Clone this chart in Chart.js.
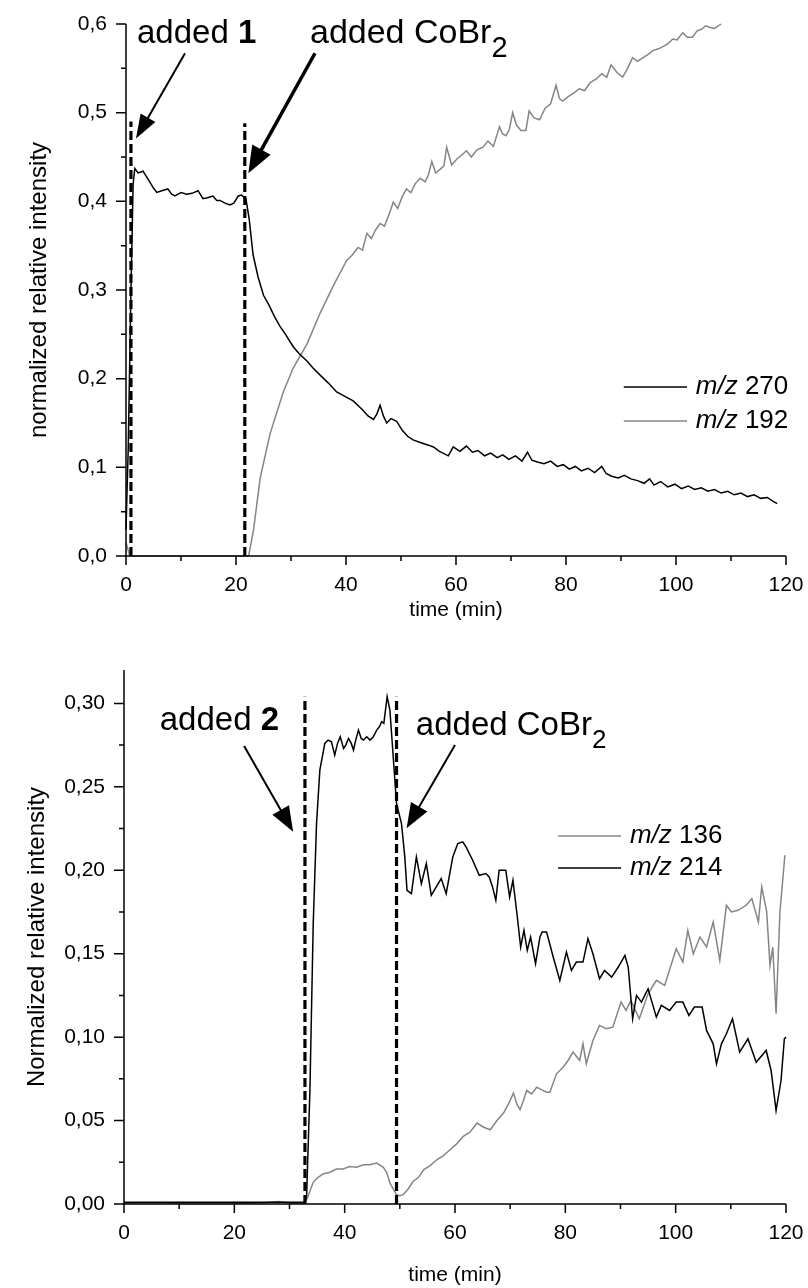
<!DOCTYPE html>
<html><head><meta charset="utf-8">
<script src="https://cdn.jsdelivr.net/npm/chart.js@4.4.1/dist/chart.umd.min.js"></script>
<style>
html,body{margin:0;padding:0;background:#fff;width:808px;height:1288px;overflow:hidden}
.box{position:absolute;left:0;width:808px}
#b1{top:0;height:640px}
#b2{top:640px;height:648px}
</style></head><body>
<div class="box" id="b1"><canvas id="c1"></canvas></div>
<div class="box" id="b2"><canvas id="c2"></canvas></div>
<script>
// ---------- DATA: top chart ----------
const topLabels = ['m/z 270', 'm/z 192'];
const topTime270 = [0,0.4,0.9,1.3,1.6,2.2,3.1,4.0,5.0,5.6,6.5,7.6,8.3,8.9,10.0,11.0,12.0,13.1,14.0,14.8,15.8,16.5,17.1,18.0,18.9,19.6,20.4,21.0,21.8,22.4,23.1,24.0,25.0,26.0,27.0,28.0,29.0,30.4,31.5,32.9,34.0,35.3,36.8,38.3,39.8,41.3,43.0,44.0,45.0,45.6,46.2,46.8,47.4,48.2,49.2,50.2,51.2,52.2,53.5,55.0,55.9,57.0,58.6,59.5,60.7,61.9,63.0,64.0,65.2,66.3,67.5,68.5,69.6,70.8,72.0,73.0,73.8,74.8,76.0,77.2,78.4,79.5,80.6,81.7,82.8,84.0,85.2,86.5,87.3,88.3,89.5,90.6,91.8,93.0,94.2,95.2,96.0,97.2,98.5,99.8,101.0,102.2,103.4,104.6,105.8,107.0,108.2,109.4,110.6,111.8,113.0,114.2,115.4,116.6,117.6,118.4];
const top270 = [0.03,0.12,0.3,0.42,0.437,0.432,0.434,0.425,0.415,0.41,0.412,0.414,0.408,0.406,0.41,0.408,0.409,0.412,0.403,0.404,0.406,0.401,0.401,0.398,0.396,0.398,0.406,0.407,0.403,0.38,0.34,0.315,0.294,0.283,0.27,0.259,0.25,0.236,0.228,0.220,0.212,0.204,0.195,0.185,0.18,0.175,0.165,0.158,0.154,0.16,0.17,0.158,0.150,0.155,0.152,0.142,0.135,0.131,0.128,0.125,0.123,0.118,0.113,0.123,0.118,0.124,0.117,0.119,0.113,0.116,0.111,0.114,0.109,0.113,0.107,0.117,0.108,0.106,0.104,0.107,0.101,0.103,0.098,0.101,0.096,0.099,0.094,0.101,0.093,0.090,0.088,0.091,0.087,0.085,0.082,0.087,0.080,0.084,0.078,0.081,0.076,0.079,0.075,0.077,0.073,0.075,0.071,0.073,0.069,0.071,0.067,0.069,0.065,0.066,0.062,0.059];
const topTime192 = [0,0.7,22.3,23.2,24.4,26.2,28.6,30.4,32.9,35.3,37.7,40.1,41.2,42.2,43.0,43.8,44.6,45.4,46.2,47.0,47.8,48.6,49.4,50.2,51.0,51.8,52.6,53.5,54.4,55.0,55.6,56.3,57.1,57.8,58.3,58.8,59.2,60.2,61.0,61.9,62.8,63.8,64.9,65.8,66.8,67.9,68.5,69.1,69.7,70.3,71.0,71.8,72.7,73.3,74.2,75.2,76.2,77.2,78.2,78.8,79.4,80.4,81.4,82.4,83.4,84.4,85.5,86.5,87.4,88.2,89.3,90.3,91.2,92.1,93.0,94.0,95.0,95.8,96.8,97.8,98.6,99.4,100.2,101.2,102.1,103.0,103.8,104.6,105.4,106.2,107.0,108.2];
const top192 = [0.015,0,0,0.03,0.088,0.138,0.185,0.212,0.239,0.274,0.305,0.333,0.340,0.348,0.345,0.364,0.358,0.368,0.375,0.372,0.385,0.399,0.392,0.405,0.414,0.41,0.42,0.426,0.422,0.43,0.445,0.432,0.436,0.44,0.461,0.45,0.441,0.448,0.452,0.457,0.45,0.458,0.461,0.468,0.462,0.484,0.476,0.474,0.481,0.500,0.486,0.48,0.480,0.502,0.494,0.492,0.505,0.51,0.531,0.516,0.513,0.518,0.522,0.527,0.525,0.534,0.538,0.544,0.54,0.554,0.545,0.540,0.55,0.562,0.558,0.562,0.566,0.57,0.572,0.575,0.578,0.583,0.582,0.59,0.585,0.585,0.592,0.594,0.598,0.596,0.595,0.600];
const topMarkerTimes = [0.9, 21.6];
const topMarkerTop = [0.49, 0.488];
const topXTicks = [0,20,40,60,80,100,120];
const topYTicks = [0,0.1,0.2,0.3,0.4,0.5,0.6];

// ---------- DATA: bottom chart ----------
const botLabels = ['m/z 136', 'm/z 214'];
const botTime214 = [0,10,20,28,32.8,33.1,33.7,34.3,34.9,35.5,36.4,37.0,37.6,38.2,38.7,39.2,39.8,40.2,40.7,41.2,41.6,42.0,42.5,43.0,43.4,44.0,44.6,45.2,45.8,46.3,46.7,47.1,47.7,48.2,48.8,49.4,50.3,50.9,51.3,52.1,53.0,53.9,54.8,55.7,56.6,57.5,58.4,59.6,60.5,61.4,62.0,63.2,64.4,65.6,66.2,66.8,67.4,68.0,69.2,69.9,70.5,71.3,71.9,72.5,73.1,73.7,74.6,75.4,75.8,76.6,77.8,79.0,80.2,81.1,82.0,83.2,84.1,85.0,86.2,87.1,88.4,89.6,90.8,91.4,92.2,92.9,93.8,95.0,96.5,97.4,98.9,100.1,101.3,102.4,103.4,104.8,105.6,106.8,107.4,108.3,109.2,110.3,111.6,113.1,114.6,116.4,117.3,118.2,119.1,119.7,120];
const bot214 = [0.001,0.001,0.001,0.001,0.001,0.005,0.068,0.168,0.228,0.260,0.276,0.278,0.277,0.269,0.276,0.280,0.273,0.275,0.279,0.276,0.272,0.278,0.284,0.279,0.278,0.280,0.278,0.280,0.284,0.286,0.289,0.288,0.304,0.296,0.268,0.240,0.228,0.208,0.188,0.186,0.208,0.192,0.204,0.185,0.19,0.195,0.186,0.208,0.216,0.217,0.214,0.206,0.197,0.198,0.196,0.19,0.182,0.200,0.200,0.184,0.194,0.172,0.154,0.164,0.152,0.160,0.144,0.160,0.163,0.163,0.148,0.134,0.151,0.140,0.145,0.145,0.159,0.150,0.135,0.140,0.136,0.142,0.149,0.142,0.111,0.125,0.121,0.129,0.112,0.119,0.116,0.121,0.121,0.113,0.118,0.118,0.104,0.096,0.084,0.096,0.102,0.111,0.091,0.099,0.085,0.092,0.080,0.056,0.074,0.099,0.100];
const botTime136 = [0,5,10,15,20,25,28,29,30,32.8,33.4,34.3,35.2,36.1,37.3,38.5,39.7,40.9,42.2,43.4,44.6,45.8,47.0,47.6,48.2,48.8,49.4,50.0,50.6,51.5,52.4,53.4,54.3,55.5,56.7,57.9,59.1,60.3,61.5,62.7,64.0,65.2,66.4,67.6,68.8,69.7,70.6,71.2,71.8,72.4,73.0,73.9,74.8,75.4,76.6,77.2,78.4,79.6,80.5,81.4,82.6,83.2,83.8,85.0,86.2,87.4,88.6,90.1,91.0,91.9,93.4,95.0,96.5,98.0,100.1,101.3,102.2,103.2,104.4,105.6,106.8,108.0,109.2,110.1,111.3,112.8,113.8,115.0,115.6,116.5,117.1,117.6,118.2,118.9,119.8];
const bot136 = [0.0005,0.0008,0.0003,0.0005,0.0003,0.0006,0.0015,0.0012,0.0005,0.0005,0.005,0.013,0.016,0.018,0.019,0.021,0.021,0.0225,0.022,0.0235,0.0235,0.0245,0.022,0.019,0.0126,0.009,0.0056,0.005,0.0056,0.009,0.0135,0.016,0.0205,0.023,0.0265,0.029,0.0325,0.036,0.0405,0.043,0.0485,0.046,0.0445,0.05,0.0545,0.06,0.0665,0.06,0.0565,0.062,0.068,0.066,0.070,0.069,0.067,0.067,0.078,0.082,0.086,0.091,0.086,0.096,0.084,0.098,0.107,0.105,0.106,0.121,0.116,0.122,0.111,0.126,0.134,0.131,0.153,0.145,0.164,0.150,0.160,0.154,0.169,0.146,0.179,0.175,0.176,0.179,0.183,0.169,0.190,0.175,0.143,0.154,0.114,0.175,0.209];
const botMarkerTimes = [32.8, 49.4];
const botMarkerTop = [0.304, 0.304];
const botXTicks = [0,20,40,60,80,100,120];
const botYTicks = [0,0.05,0.10,0.15,0.20,0.25,0.30];

// ---------- helpers ----------
const FONT = "Arial, 'Liberation Sans', sans-serif";
const BLACK = '#000000', GRAY = '#858585';
const zip = (t, v) => t.map((x, i) => ({x: x, y: v[i]}));
const markerData = (t, top) => [{x: t, y: 0}, {x: t, y: top}];

function drawArrow(ctx, x1, y1, x2, y2, lw, hl, hw) {
  const a = Math.atan2(y2 - y1, x2 - x1);
  const bx = x2 - hl * Math.cos(a), by = y2 - hl * Math.sin(a);
  ctx.lineWidth = lw;
  ctx.beginPath(); ctx.moveTo(x1, y1); ctx.lineTo(bx + 2 * Math.cos(a), by + 2 * Math.sin(a)); ctx.stroke();
  ctx.beginPath(); ctx.moveTo(x2, y2);
  ctx.lineTo(bx + hw / 2 * Math.sin(a), by - hw / 2 * Math.cos(a));
  ctx.lineTo(bx - hw / 2 * Math.sin(a), by + hw / 2 * Math.cos(a));
  ctx.closePath(); ctx.fill();
}
function drawParts(ctx, x, y, parts, size) {
  let cx = x;
  ctx.textBaseline = 'alphabetic'; ctx.textAlign = 'left';
  for (const p of parts) {
    const s = p.sub ? Math.round(size * p.sub) : size;
    ctx.font = (p.italic ? 'italic ' : '') + (p.bold ? 'bold ' : '') + s + 'px ' + FONT;
    ctx.fillText(p.text, cx, y + (p.sub ? p.dy : 0));
    cx += ctx.measureText(p.text).width;
  }
}

const axesPlugin = {
  id: 'axdraw',
  afterDatasetsDraw(chart, args, o) {
    const {ctx, chartArea: a, scales: {x, y}} = chart;
    ctx.save();
    ctx.strokeStyle = '#000'; ctx.lineWidth = 1.5;
    ctx.beginPath();
    ctx.moveTo(a.left, y.getPixelForValue(y.max));
    ctx.lineTo(a.left, a.bottom);
    ctx.lineTo(a.right, a.bottom);
    ctx.stroke();
    ctx.beginPath();
    const nx = Math.floor((x.max - x.min) / o.xMinor + 1e-6);
    for (let i = 0; i <= nx; i++) {
      const v = x.min + i * o.xMinor;
      const major = Math.abs(v / o.xMajor - Math.round(v / o.xMajor)) < 1e-6;
      const px = x.getPixelForValue(v);
      ctx.moveTo(px, a.bottom); ctx.lineTo(px, a.bottom + (major ? 9 : 5));
    }
    const ny = Math.floor((y.max - y.min) / o.yMinor + 1e-6);
    for (let i = 0; i <= ny; i++) {
      const v = y.min + i * o.yMinor;
      const major = Math.abs(v / o.yMajor - Math.round(v / o.yMajor)) < 1e-6;
      const py = y.getPixelForValue(v);
      ctx.moveTo(a.left, py); ctx.lineTo(a.left - (major ? 10 : 5), py);
    }
    ctx.stroke();
    ctx.restore();
  }
};

const annotPlugin = {
  id: 'annot',
  afterDraw(chart, args, o) {
    const {ctx, scales: {x, y}} = chart;
    ctx.save();
    ctx.fillStyle = '#000'; ctx.strokeStyle = '#000';
    for (const ar of o.arrows) {
      drawArrow(ctx, x.getPixelForValue(ar.from[0]), y.getPixelForValue(ar.from[1]),
        x.getPixelForValue(ar.to[0]), y.getPixelForValue(ar.to[1]), ar.lw, ar.hl, ar.hw);
    }
    for (const t of o.texts) {
      drawParts(ctx, x.getPixelForValue(t.at[0]), y.getPixelForValue(t.at[1]), t.parts, t.size);
    }
    const lg = o.legend;
    chart.data.datasets.forEach((ds) => {
      if (ds.legendRow === undefined) return;
      const yy = y.getPixelForValue(lg.rows[ds.legendRow]);
      ctx.strokeStyle = ds.borderColor; ctx.lineWidth = 1.5;
      ctx.beginPath();
      ctx.moveTo(x.getPixelForValue(lg.x0), yy); ctx.lineTo(x.getPixelForValue(lg.x1), yy);
      ctx.stroke();
      const sp = ds.label.indexOf(' ');
      ctx.fillStyle = '#000';
      ctx.textBaseline = 'middle'; ctx.textAlign = 'left';
      let cx = x.getPixelForValue(lg.xt);
      ctx.font = 'italic ' + lg.size + 'px ' + FONT;
      const a = ds.label.slice(0, sp);
      ctx.fillText(a, cx, yy);
      cx += ctx.measureText(a).width;
      ctx.font = lg.size + 'px ' + FONT;
      ctx.fillText(ds.label.slice(sp), cx, yy);
    });
    ctx.restore();
  }
};

function makeChart(id, cfg) {
  const lineDs = (label, pts, color, row) => ({
    label, data: pts, borderColor: color, borderWidth: 1.5, pointRadius: 0,
    fill: false, tension: 0, clip: 4, legendRow: row
  });
  const markDs = (pts) => ({
    label: '', data: pts, borderColor: '#000', borderWidth: 3.2, borderDash: [9, 4],
    pointRadius: 0, fill: false, tension: 0, clip: 4
  });
  const datasets = [
    markDs(markerData(cfg.markerTimes[0], cfg.markerTop[0])),
    markDs(markerData(cfg.markerTimes[1], cfg.markerTop[1])),
    ...cfg.series.map(s => lineDs(s.label, s.pts, s.color, s.row))
  ];
  return new Chart(document.getElementById(id), {
    type: 'line',
    data: {datasets},
    options: {
      responsive: true, maintainAspectRatio: false, animation: false, devicePixelRatio: 1,
      layout: {padding: cfg.padding},
      plugins: {
        legend: {display: false}, tooltip: {enabled: false},
        axdraw: cfg.axdraw, annot: cfg.annot
      },
      scales: {
        x: {
          type: 'linear', min: 0, max: 120,
          grid: {display: false, drawTicks: false, tickLength: 0},
          border: {display: false},
          afterBuildTicks: s => { s.ticks = cfg.xTicks.map(v => ({value: v})); },
          afterFit: s => { s.height = cfg.xHeight; s.paddingLeft = 0; s.paddingRight = 0; },
          ticks: {color: '#000', padding: cfg.xPad, font: {family: FONT, size: 21},
            maxRotation: 0, autoSkip: false, callback: v => String(v)},
          title: {display: true, text: 'time (min)', color: '#000',
            font: {family: FONT, size: 21}, padding: {top: 0, bottom: cfg.xTitlePad}}
        },
        y: {
          type: 'linear', min: 0, max: cfg.yMax,
          grid: {display: false, drawTicks: false, tickLength: 0},
          border: {display: false},
          afterBuildTicks: s => { s.ticks = cfg.yTicks.map(v => ({value: v})); },
          afterFit: s => { s.width = cfg.yWidth; s.paddingTop = 0; s.paddingBottom = 0; },
          ticks: {color: '#000', padding: 19, font: {family: FONT, size: 21}, autoSkip: false,
            callback: v => v.toFixed(cfg.yDec).replace('.', ',')},
          title: {display: true, text: cfg.yTitle, color: '#000',
            font: {family: FONT, size: 24}, padding: {top: cfg.yTitlePad, bottom: 0}}
        }
      }
    },
    plugins: [axesPlugin, annotPlugin]
  });
}

makeChart('c1', {
  padding: {left: 0, right: 22, top: 24, bottom: 0},
  yMax: 0.6, yDec: 1, yWidth: 126, xHeight: 84, xPad: 17, xTitlePad: 17, yTitlePad: 25,
  yTitle: 'normalized relative intensity',
  xTicks: topXTicks, yTicks: topYTicks,
  markerTimes: topMarkerTimes, markerTop: topMarkerTop,
  series: [
    {label: topLabels[0], pts: zip(topTime270, top270), color: BLACK, row: 0},
    {label: topLabels[1], pts: zip(topTime192, top192), color: GRAY, row: 1}
  ],
  axdraw: {xMajor: 20, xMinor: 10, yMajor: 0.1, yMinor: 0.05},
  annot: {
    arrows: [
      {from: [10.73, 0.567], to: [1.82, 0.4708], lw: 2, hl: 24, hw: 17},
      {from: [34.36, 0.567], to: [22.24, 0.4317], lw: 3.5, hl: 27, hw: 21}
    ],
    texts: [
      {at: [2.0, 0.5786], size: 33, parts: [{text: 'added '}, {text: '1', bold: true}]},
      {at: [33.45, 0.5786], size: 34, parts: [{text: 'added CoBr'}, {text: '2', sub: 0.85, dy: 14}]}
    ],
    legend: {x0: 90.5, x1: 102, xt: 103.6, size: 26, rows: [0.1906, 0.1523]}
  }
});

makeChart('c2', {
  padding: {left: 0, right: 22, top: 30, bottom: 0},
  yMax: 0.32, yDec: 2, yWidth: 124, xHeight: 84, xPad: 17, xTitlePad: 0, yTitlePad: 23,
  yTitle: 'Normalized relative intensity',
  xTicks: botXTicks, yTicks: botYTicks,
  markerTimes: botMarkerTimes, markerTop: botMarkerTop,
  series: [
    {label: botLabels[1], pts: zip(botTime214, bot214), color: BLACK, row: 1},
    {label: botLabels[0], pts: zip(botTime136, bot136), color: GRAY, row: 0}
  ],
  axdraw: {xMajor: 20, xMinor: 10, yMajor: 0.05, yMinor: 0.025},
  annot: {
    arrows: [
      {from: [21.77, 0.2744], to: [30.66, 0.2231], lw: 2, hl: 25, hw: 19},
      {from: [60.0, 0.2751], to: [51.23, 0.2251], lw: 2, hl: 25, hw: 19}
    ],
    texts: [
      {at: [6.48, 0.284], size: 33, parts: [{text: 'added '}, {text: '2', bold: true}]},
      {at: [52.9, 0.281], size: 33, parts: [{text: 'added CoBr'}, {text: '2', sub: 0.8, dy: 13}]}
    ],
    legend: {x0: 78.7, x1: 90.1, xt: 91.7, size: 26, rows: [0.2205, 0.2014]}
  }
});
</script>
</body></html>
